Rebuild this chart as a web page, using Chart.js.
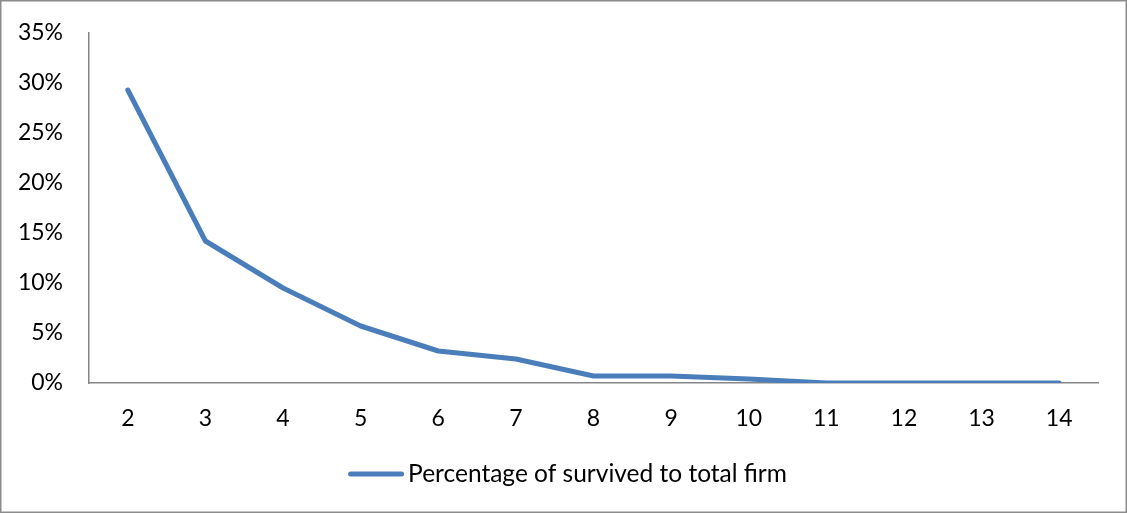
<!DOCTYPE html>
<html>
<head>
<meta charset="utf-8">
<script src="https://cdn.jsdelivr.net/npm/chart.js@4/dist/chart.umd.min.js"></script>
<style>
  html, body { margin: 0; padding: 0; background: #ffffff; }
  #wrap { width: 1127px; height: 513px; position: relative; }
  canvas { display: block; }
</style>
</head>
<body>
<div id="wrap"><canvas id="c" width="1127" height="513"></canvas></div>
<script>
// Firm age (years) and share of firms surviving to that age
const ages = ['2', '3', '4', '5', '6', '7', '8', '9', '10', '11', '12', '13', '14'];
const survivedShare = [0.293, 0.142, 0.095, 0.057, 0.032, 0.024, 0.007, 0.007, 0.004, 0, 0, 0, 0];
const seriesName = 'Percentage of survived to total firm';
const yTicks = [0, 0.05, 0.10, 0.15, 0.20, 0.25, 0.30, 0.35];

const lineBlue = '#4a7ebb';
const axisGrey = '#868686';
const fontFamily = 'Lato, "Open Sans", sans-serif';

// white background and a thin frame around the whole chart
const framePlugin = {
  id: 'frame',
  beforeDraw(chart) {
    const ctx = chart.ctx;
    ctx.save();
    ctx.fillStyle = '#ffffff';
    ctx.fillRect(0, 0, chart.width, chart.height);
    ctx.strokeStyle = '#8c8c8c';
    ctx.lineWidth = 1.5;
    ctx.strokeRect(0.75, 0.75, chart.width - 1.5, chart.height - 1.5);
    ctx.restore();
  }
};

// bottom legend: a short line sample followed closely by the series name
const lineLegendPlugin = {
  id: 'lineLegend',
  afterDraw(chart) {
    const ctx = chart.ctx;
    const ds = chart.data.datasets[0];
    const sampleW = 56, gap = 4, y = 474;
    ctx.save();
    ctx.font = '24.5px ' + fontFamily;
    const textW = ctx.measureText(ds.label).width;
    const x0 = chart.width / 2 + 4 - (sampleW + gap + textW) / 2;
    ctx.strokeStyle = ds.borderColor;
    ctx.lineWidth = 5;
    ctx.lineCap = 'round';
    ctx.beginPath();
    ctx.moveTo(x0 + 2.5, y);
    ctx.lineTo(x0 + sampleW - 2.5, y);
    ctx.stroke();
    ctx.fillStyle = '#000000';
    ctx.textBaseline = 'middle';
    ctx.textAlign = 'left';
    ctx.fillText(ds.label, x0 + sampleW + gap, y);
    ctx.restore();
  }
};

new Chart(document.getElementById('c'), {
  type: 'line',
  data: {
    labels: ages,
    datasets: [{
      label: seriesName,
      data: survivedShare,
      borderColor: lineBlue,
      backgroundColor: lineBlue,
      borderWidth: 5,
      borderCapStyle: 'round',
      borderJoinStyle: 'round',
      pointRadius: 0,
      tension: 0,
      fill: false
    }]
  },
  options: {
    responsive: false,
    animation: false,
    devicePixelRatio: 1,
    layout: { padding: { left: 0, right: 29, top: 33, bottom: 60 } },
    scales: {
      x: {
        offset: true,
        grid: { display: false, drawTicks: false },
        border: { display: true, color: axisGrey, width: 1.5 },
        ticks: { color: '#000000', padding: 22, font: { family: fontFamily, size: 23 } },
        afterFit(scale) { scale.height = 70; }
      },
      y: {
        min: 0,
        max: 0.35,
        afterBuildTicks(scale) { scale.ticks = yTicks.map(v => ({ value: v })); },
        // invisible tick marks keep the labels away from the axis line
        grid: { display: true, drawOnChartArea: false, drawTicks: true, tickLength: 26, color: 'rgba(0,0,0,0)' },
        border: { display: true, color: axisGrey, width: 1.5 },
        ticks: {
          color: '#000000',
          padding: 0,
          font: { family: fontFamily, size: 23 },
          callback: v => Math.round(v * 100) + '%'
        },
        afterFit(scale) { scale.width = 89; }
      }
    },
    plugins: {
      legend: { display: false },
      tooltip: { enabled: false }
    }
  },
  plugins: [framePlugin, lineLegendPlugin]
});
</script>
</body>
</html>
